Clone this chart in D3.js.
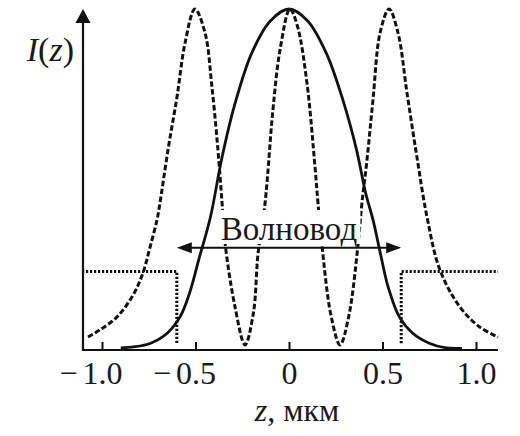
<!DOCTYPE html>
<html><head><meta charset="utf-8">
<script src="https://cdn.jsdelivr.net/npm/d3@7"></script>
<style>html,body{margin:0;padding:0;background:#fff;} svg{display:block;}</style>
</head><body>
<svg id="c" width="520" height="436"></svg>
<script>
// ---- data ----
const fundZ = [-0.90,-0.83,-0.74,-0.65,-0.58,-0.53,-0.48,-0.42,-0.36,-0.29,-0.20,-0.10,0.00,0.10,0.20,0.29,0.36,0.41,0.45,0.49,0.53,0.59,0.66,0.75,0.84,0.925];
const fundI = [0.006,0.009,0.02,0.05,0.10,0.17,0.27,0.39,0.56,0.72,0.87,0.965,1.0,0.965,0.87,0.73,0.59,0.46,0.38,0.28,0.185,0.097,0.05,0.02,0.006,0.005];
const mode3Z = [-1.075,-1.011,-0.92,-0.834,-0.781,-0.743,-0.706,-0.69,-0.647,-0.599,-0.556,-0.503,-0.449,-0.412,-0.38,-0.358,-0.342,-0.29,-0.235,-0.19,-0.166,-0.128,-0.086,-0.048,0.005,0.045,0.096,0.139,0.155,0.176,0.225,0.273,0.32,0.369,0.39,0.417,0.449,0.487,0.535,0.583,0.631,0.684,0.738,0.807,0.914,1.021,1.118];
const mode3I = [0.038,0.059,0.097,0.161,0.226,0.302,0.381,0.431,0.587,0.742,0.90,1.0,0.93,0.771,0.587,0.431,0.314,0.13,0.015,0.11,0.28,0.431,0.704,0.88,1.0,0.95,0.783,0.537,0.431,0.308,0.10,0.015,0.10,0.308,0.431,0.557,0.733,0.93,1.0,0.93,0.754,0.566,0.39,0.235,0.126,0.067,0.038];
const coreEdges = [-0.6, 0.6];
const claddingLevel = 0.23;
const coreLevel = 0.02;
const arrowLevel = 0.30;
const zExtent = [-1.107, 1.118];
const xTicks = [-1, -0.5, 0, 0.5, 1];
const xTickLabels = ["\u22121.0", "\u22120.5", "0", "0.5", "1.0"];
const waveguideLabel = "Волновод";
const xTitleParts = ["z", ", мкм"];
const yTitleParts = ["I", "(", "z", ")"];

// ---- drawing ----
const svg = d3.select("#c");
svg.append("rect").attr("width",520).attr("height",436).attr("fill","#fff");
const x = d3.scaleLinear().domain([-1, 1]).range([102, 476]);
const y = d3.scaleLinear().domain([0, 1]).range([350, 9]);
const ink = "#111";
const font = "'Liberation Serif','Times New Roman',serif";

const line = d3.line().x(d => x(d[0])).y(d => y(d[1])).curve(d3.curveCatmullRom.alpha(0.5));

// refractive index step (dotted)
const stepLeft = [[zExtent[0], claddingLevel], [coreEdges[0], claddingLevel], [coreEdges[0], coreLevel]];
const stepRight = [[coreEdges[1], coreLevel], [coreEdges[1], claddingLevel], [zExtent[1], claddingLevel]];
const stepLine = d3.line().x(d => x(d[0])).y(d => y(d[1]));
[stepLeft, stepRight].forEach(s => {
  svg.append("path").attr("d", stepLine(s)).attr("fill","none")
    .attr("stroke", ink).attr("stroke-width", 3).attr("stroke-dasharray","2.2,1.8");
});

// third mode (dashed)
svg.append("path").attr("d", line(d3.zip(mode3Z, mode3I))).attr("fill","none")
  .attr("stroke", ink).attr("stroke-width", 3).attr("stroke-dasharray","5.5,2.5");

// label box + text
const lbl = svg.append("text").attr("x", x(0)).attr("y", 240).attr("text-anchor","middle")
  .attr("font-family", font).attr("font-size", 33).attr("fill", "#1a1a1a").text(waveguideLabel);
const bb = lbl.node().getBBox();
svg.insert("rect", "text").attr("x", bb.x - 3).attr("y", 210).attr("width", bb.width + 6).attr("height", 34).attr("fill", "#fff");

// fundamental mode (solid)
svg.append("path").attr("d", line(d3.zip(fundZ, fundI))).attr("fill","none")
  .attr("stroke", ink).attr("stroke-width", 2.8);

// double arrow
const ay = y(arrowLevel);
const xl = x(coreEdges[0]), xr = x(coreEdges[1]);
svg.append("line").attr("x1", xl + 8).attr("x2", xr - 8).attr("y1", ay).attr("y2", ay)
  .attr("stroke", ink).attr("stroke-width", 2);
svg.append("path").attr("d", `M${xl},${ay}L${xl+15},${ay-5.5}L${xl+15},${ay+5.5}Z`).attr("fill", ink);
svg.append("path").attr("d", `M${xr},${ay}L${xr-15},${ay-5.5}L${xr-15},${ay+5.5}Z`).attr("fill", ink);

// x axis
const xAxis = d3.axisBottom(x).tickValues(xTicks).tickSizeInner(-8).tickSizeOuter(0)
  .tickFormat((d, i) => xTickLabels[i].replace("\u2212", ""));
const gx = svg.append("g").attr("transform", "translate(0,350)").call(xAxis);
gx.select(".domain").remove();
gx.selectAll(".tick line").attr("stroke", ink).attr("stroke-width", 2);
gx.selectAll(".tick text").attr("y", 34).attr("dy", null)
  .attr("font-family", font).attr("font-size", 32).attr("fill", "#1a1a1a");
gx.selectAll(".tick").each(function(d, i) {
  if (xTickLabels[i].startsWith("\u2212")) {
    const t = d3.select(this).select("text");
    const w = t.node().getComputedTextLength();
    d3.select(this).append("text").attr("x", -w / 2 - 5).attr("y", 34).attr("text-anchor", "end")
      .attr("font-family", font).attr("font-size", 32).attr("fill", "#1a1a1a").text("\u2212");
  }
});
svg.append("line").attr("x1", x(zExtent[0])).attr("x2", x(zExtent[1])).attr("y1", 350).attr("y2", 350)
  .attr("stroke", ink).attr("stroke-width", 2.2);

// y axis with arrow
const axX = x(zExtent[0]) + 1;
svg.append("line").attr("x1", axX).attr("x2", axX).attr("y1", 351).attr("y2", 20)
  .attr("stroke", ink).attr("stroke-width", 2.2);
svg.append("path").attr("d", `M${axX},9L${axX-7.5},23L${axX+7.5},23Z`).attr("fill", ink);

// y title
const yt = svg.append("text").attr("x", 74).attr("y", 61).attr("text-anchor","end")
  .attr("font-family", font).attr("font-size", 34).attr("fill", "#1a1a1a");
yTitleParts.forEach((p, i) => yt.append("tspan").attr("font-style", (i % 2 === 0) ? "italic" : "normal").text(p));

// x title
const xt = svg.append("text").attr("x", 297).attr("y", 421).attr("text-anchor","middle")
  .attr("font-family", font).attr("font-size", 32).attr("fill", "#1a1a1a");
xTitleParts.forEach((p, i) => xt.append("tspan").attr("font-style", i === 0 ? "italic" : "normal").text(p));
</script>
</body></html>
